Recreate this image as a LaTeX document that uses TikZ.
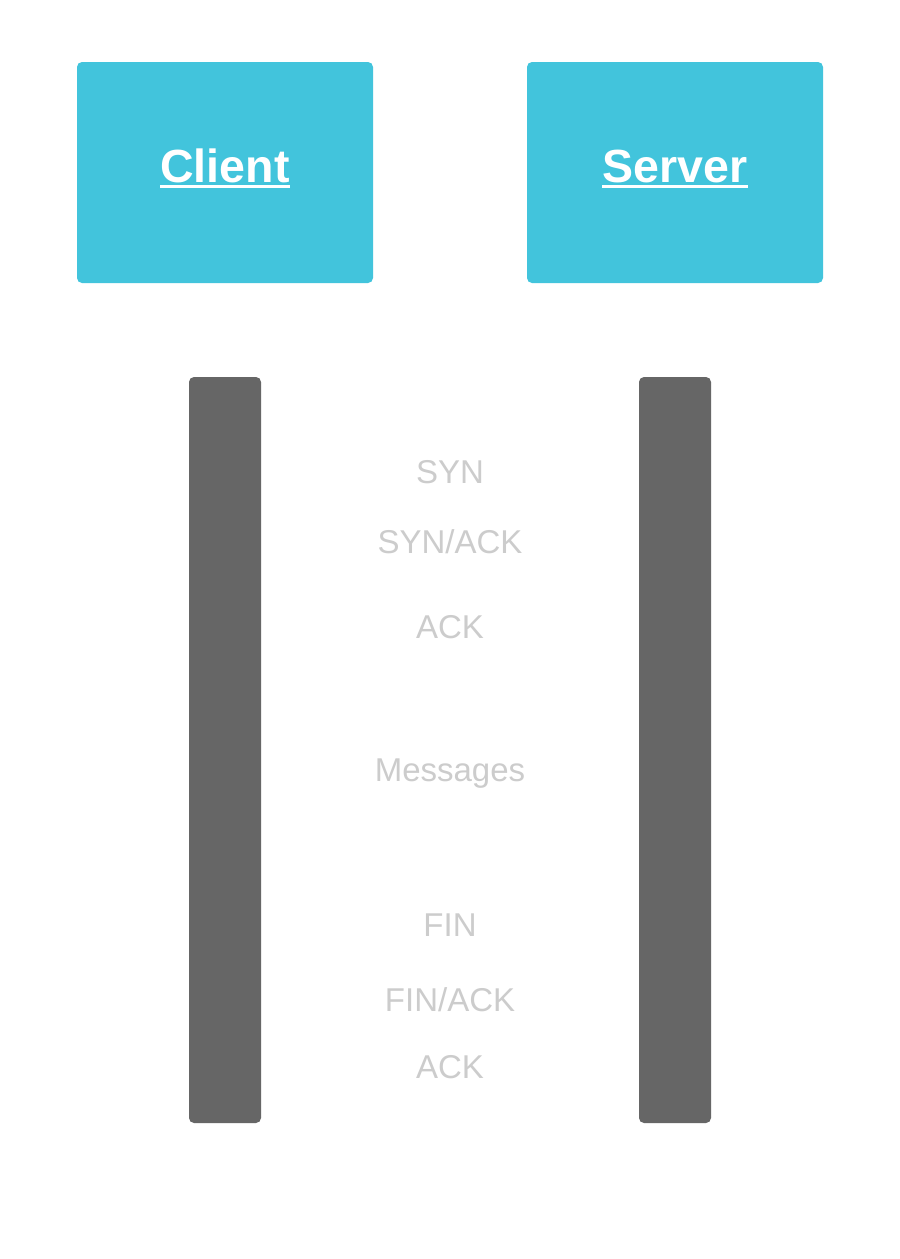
\documentclass[tikz,border=0pt]{standalone}
\usepackage{fontspec}
\setmainfont{Liberation Sans}
\definecolor{boxblue}{HTML}{42C4DC}
\definecolor{bargray}{HTML}{666666}
\definecolor{lbl}{HTML}{CCCCCC}
\begin{document}
\begin{tikzpicture}[x=1pt,y=-1pt,
  headbox/.style={fill=boxblue,rounded corners=5pt,draw=none},
  lifebar/.style={fill=bargray,rounded corners=5pt,draw=none},
  headtext/.style={text=white,font=\fontsize{46.5}{52}\selectfont\bfseries,inner sep=0pt,anchor=base},
  msg/.style={text=lbl,font=\fontsize{33}{38}\selectfont,inner sep=0pt}]
\useasboundingbox[fill=white] (0,0) rectangle (900,1259);
% header boxes
\path[headbox] (77,62) rectangle (373,283);
\path[headbox] (527,62) rectangle (823,283);
\node[headtext] (client) at (225,182) {Client};
\node[headtext] (server) at (675,182) {Server};
\draw[white,line width=3pt] ([yshift=-4pt]client.base west) -- ([yshift=-4pt]client.base east);
\draw[white,line width=3pt] ([yshift=-4pt]server.base west) -- ([yshift=-4pt]server.base east);
% lifelines
\path[lifebar] (189,377) rectangle (261,1123);
\path[lifebar] (639,377) rectangle (711,1123);
% messages
\node[msg] (m1) at (450,472) {SYN};
\node[msg] (m2) at (450,542) {SYN/ACK};
\node[msg] (m3) at (450,627) {ACK};
\node[msg] (m4) at (450,774) {Messages};
\node[msg] (m5) at (450,925) {FIN};
\node[msg] (m6) at (450,1000) {FIN/ACK};
\node[msg] (m7) at (450,1067) {ACK};
\end{tikzpicture}
\end{document}
